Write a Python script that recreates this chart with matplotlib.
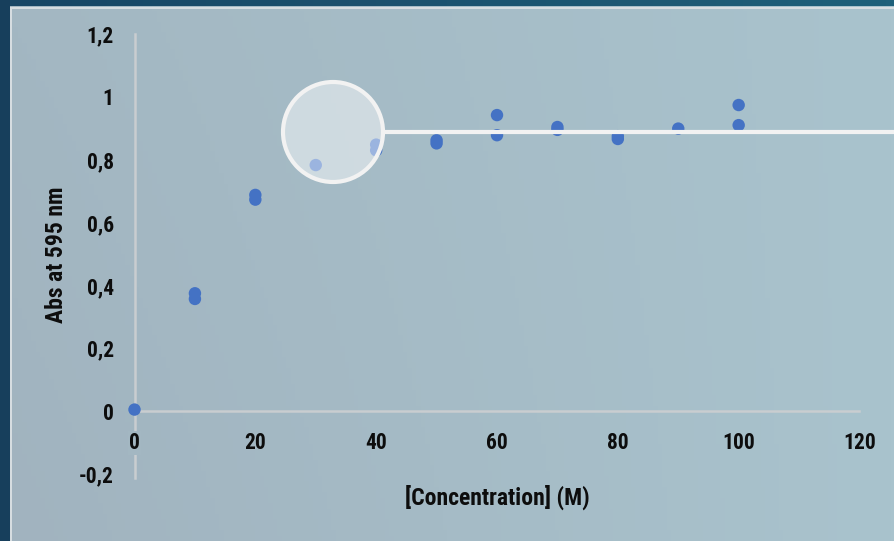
import numpy as np
import matplotlib
matplotlib.use("Agg")
import matplotlib.pyplot as plt
from matplotlib.patches import Rectangle, Circle

# ---- data ----
conc = [0, 10, 10, 20, 20, 30, 40, 40, 50, 50, 60, 60, 70, 70, 80, 80, 90, 100, 100]
absorb = [0.005, 0.375, 0.357, 0.688, 0.673, 0.783, 0.848, 0.830, 0.862, 0.852,
          0.942, 0.878, 0.904, 0.895, 0.875, 0.866, 0.899, 0.974, 0.910]
x_ticks = [0, 20, 40, 60, 80, 100, 120]
x_ticklabels = ["0", "20", "40", "60", "80", "100", "120"]
y_ticks = [-0.2, 0, 0.2, 0.4, 0.6, 0.8, 1.0, 1.2]
y_ticklabels = ["-0,2", "0", "0,2", "0,4", "0,6", "0,8", "1", "1,2"]
x_label = "[Concentration] (M)"
y_label = "Abs at 595 nm"

W, H = 895, 541
plt.rcParams['font.family'] = ['Roboto Condensed', 'Roboto', 'DejaVu Sans']
FS_TICK = 15.5
FS_LAB = 17
fig = plt.figure(figsize=(W / 100, H / 100), dpi=100)

# ---- background gradient ----
bg = fig.add_axes([0, 0, 1, 1], zorder=0)
bg.set_axis_off()
nx, ny = 200, 100
gx = np.linspace(0, 1, nx)[None, :]
gy = np.linspace(0, 1, ny)[:, None]
c_left = np.array([163, 183, 194]) / 255
c_right = np.array([169, 195, 205]) / 255
c_bot = np.array([-2, -4, -3]) / 255
img = c_left[None, None, :] * (1 - gx[..., None]) + c_right[None, None, :] * gx[..., None]
img = img + c_bot[None, None, :] * gy[..., None] * (1 - gx[..., None])
img = np.clip(img, 0, 1)
bg.imshow(img, extent=[0, W, H, 0], aspect='auto')
# dark frame
topgrad = np.zeros((1, 100, 3))
tl = np.array([24, 70, 101]) / 255
tr = np.array([30, 96, 122]) / 255
t = np.linspace(0, 1, 100)[:, None]
topgrad[0] = tl * (1 - t) + tr * t
bg.imshow(topgrad, extent=[0, W, 6.5, 0], aspect='auto')
bg.add_patch(Rectangle((0, 0), 10.5, H, color='#173f5c', lw=0))
bg.add_patch(Rectangle((10.5, 6.5), W, 2.5, color='#d6dde1', lw=0))
bg.add_patch(Rectangle((10.5, 6.5), 2, H, color='#d6dde1', lw=0))
bg.set_xlim(0, W)
bg.set_ylim(H, 0)

# ---- chart ----
left, right = 134.5 / W, 859.5 / W
top, bottom = 1 - 34 / H, 1 - 474 / H
ax = fig.add_axes([left, bottom, right - left, top - bottom], zorder=2)
ax.patch.set_alpha(0)
ax.scatter(conc, absorb, s=80, color='#4472c4', edgecolors='none', zorder=3, clip_on=False)
ax.set_xlim(0, 120)
ax.set_ylim(-0.2, 1.2)
for s in ['top', 'right']:
    ax.spines[s].set_visible(False)
ax.spines['bottom'].set_position(('data', 0))
ax.spines['left'].set_bounds(-0.213, 1.2)
for s in ['bottom', 'left']:
    ax.spines[s].set_color('#c9cdd0')
    ax.spines[s].set_linewidth(1.8)
    ax.spines[s].set_zorder(1)
ax.xaxis.set_zorder(4)
ax.set_xticks(x_ticks)
ax.set_xticklabels(x_ticklabels)
ax.set_yticks(y_ticks)
ax.set_yticklabels(y_ticklabels)
ax.tick_params(axis='x', length=0, pad=15, labelsize=FS_TICK)
ax.tick_params(axis='y', length=0, pad=15, labelsize=FS_TICK)
for lab in ax.get_xticklabels() + ax.get_yticklabels():
    lab.set_fontweight('bold')
    lab.set_color('#0d0d0d')
ax.get_xticklabels()[0].set_bbox(dict(facecolor='#a3b7c2', edgecolor='none', pad=0.5))

fig.text(497 / W, 1 - 497 / H, x_label, ha='center', va='center',
         fontsize=FS_LAB, fontweight='bold', color='#0d0d0d')
fig.text(57 / W, 1 - 255 / H, y_label, ha='center', va='center', rotation=90,
         fontsize=FS_LAB, fontweight='bold', color='#0d0d0d')

# ---- magnifier overlay ----
ov = fig.add_axes([0, 0, 1, 1], zorder=10)
ov.set_axis_off()
ov.patch.set_alpha(0)
ov.set_xlim(0, W)
ov.set_ylim(H, 0)
ov.plot([385, W], [132, 132], color='#f2f2f2', lw=3, solid_capstyle='butt')
ov.add_patch(Circle((333, 132), 50, facecolor=(1, 1, 1, 0.47), edgecolor='#f2f2f2', lw=3))

fig.savefig('out.png', dpi=100)
